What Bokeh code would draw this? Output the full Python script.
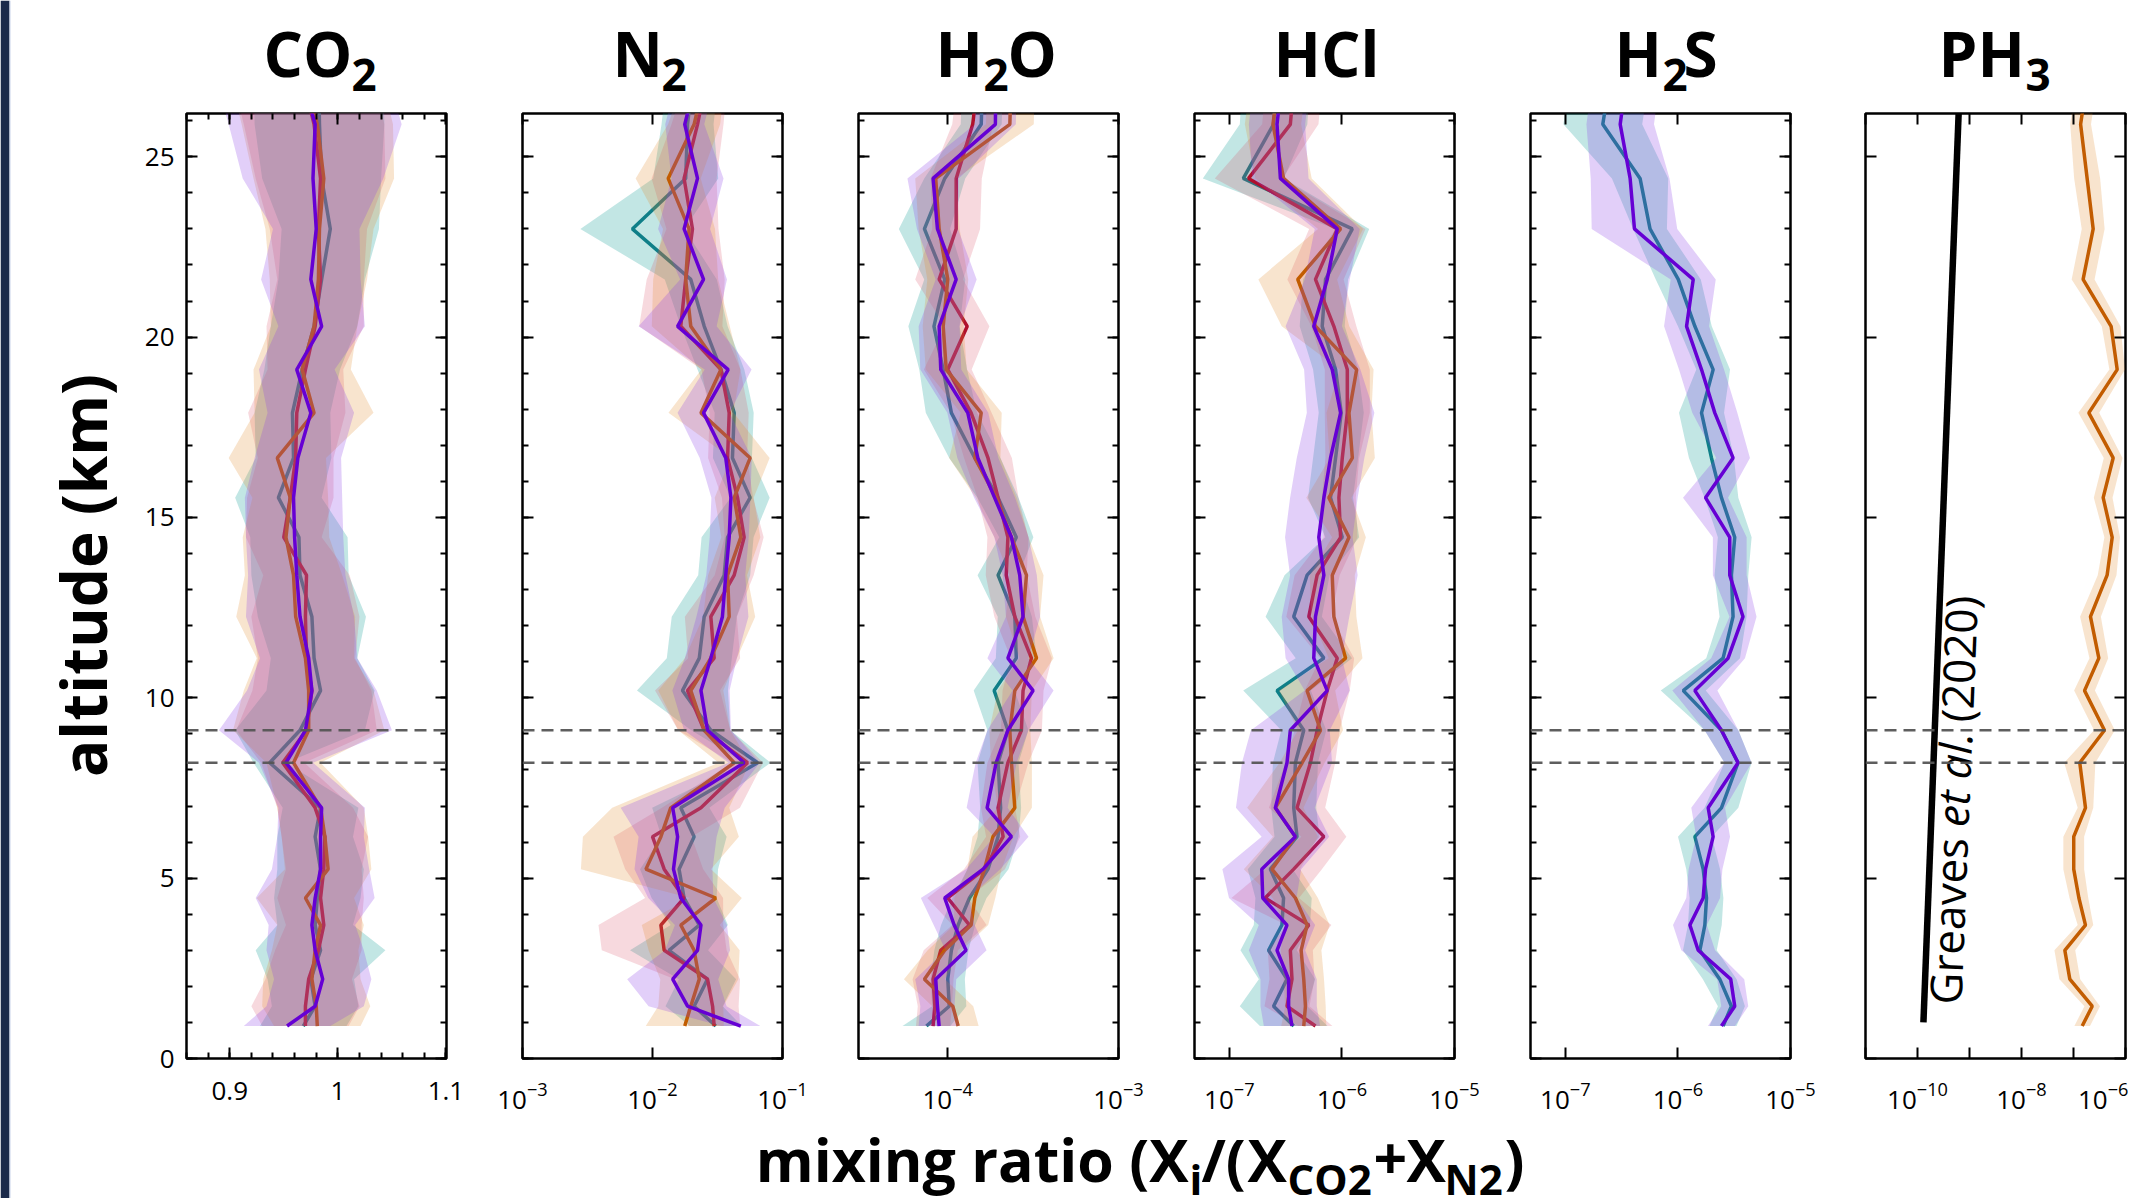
import math
from bokeh.plotting import figure
from bokeh.layouts import row, column
from bokeh.models import (Range1d, LinearAxis, LogAxis, FixedTicker, Span, Label,
                          CustomJSTickFormatter)
from bokeh.core.properties import value
from bokeh.embed import file_html
from bokeh.resources import INLINE

FONT = "Open Sans"

# ---------------- data ----------------
ALT = [27.5, 25.9, 24.4, 23.0, 21.6, 20.3, 19.1, 17.9, 16.65, 15.55, 14.45, 13.4, 12.25,
       11.1, 10.2, 9.1, 8.2, 6.95, 6.15, 5.25, 4.45, 3.7, 3.0, 2.2, 1.45, 0.9]
ALT_MIN, ALT_MAX = 0.0, 26.2
DASHED_ALTS = [9.1, 8.2]
Y_MAJOR = [0, 5, 10, 15, 20, 25]
Y_MINOR = list(range(0, 27))

# CO2 (linear mixing ratio), half-widths in same units
co2_teal = [0.982, 0.983, 0.985, 0.993, 0.985, 0.978, 0.967, 0.958, 0.959, 0.945, 0.964, 0.965, 0.976,
            0.978, 0.984, 0.965, 0.937, 0.984, 0.979, 0.984, 0.981, 0.979, 0.984, 0.975, 0.979, 0.968]
co2_red = [0.965, 0.978, 0.984, 0.982, 0.984, 0.979, 0.970, 0.962, 0.961, 0.956, 0.950, 0.971, 0.970,
           0.971, 0.976, 0.971, 0.949, 0.979, 0.988, 0.987, 0.984, 0.987, 0.982, 0.973, 0.970, 0.970]
co2_orange = [0.968, 0.981, 0.987, 0.983, 0.982, 0.978, 0.967, 0.978, 0.944, 0.956, 0.952, 0.959, 0.961,
              0.970, 0.973, 0.973, 0.959, 0.984, 0.988, 0.991, 0.970, 0.984, 0.979, 0.976, 0.980, 0.981]
co2_purple = [0.964, 0.979, 0.977, 0.980, 0.975, 0.985, 0.962, 0.975, 0.963, 0.959, 0.960, 0.962, 0.965,
              0.973, 0.976, 0.970, 0.952, 0.985, 0.984, 0.984, 0.979, 0.976, 0.979, 0.986, 0.979, 0.953]
co2_teal_err = [0.06, 0.06, 0.055, 0.045, 0.04, 0.04, 0.035, 0.035, 0.035, 0.04, 0.045, 0.045, 0.05,
                0.04, 0.05, 0.06, 0.015, 0.035, 0.035, 0.04, 0.04, 0.035, 0.06, 0.04, 0.04, 0.04]
co2_red_err = [0.065, 0.065, 0.06, 0.045, 0.04, 0.045, 0.035, 0.045, 0.035, 0.04, 0.035, 0.04, 0.05,
               0.045, 0.055, 0.065, 0.02, 0.035, 0.04, 0.035, 0.04, 0.035, 0.04, 0.04, 0.05, 0.04]
co2_orange_err = [0.07, 0.07, 0.065, 0.05, 0.045, 0.04, 0.045, 0.055, 0.045, 0.035, 0.04, 0.045, 0.055,
                  0.045, 0.06, 0.07, 0.025, 0.04, 0.04, 0.04, 0.045, 0.04, 0.04, 0.045, 0.05, 0.04]
co2_purple_err = [0.08, 0.08, 0.065, 0.04, 0.046, 0.04, 0.035, 0.04, 0.04, 0.045, 0.045, 0.045, 0.05,
                  0.045, 0.06, 0.08, 0.025, 0.04, 0.04, 0.045, 0.055, 0.04, 0.045, 0.045, 0.045, 0.04]

# N2 (log), half-widths in dex
n2_teal = [0.0209, 0.0186, 0.0180, 0.0070, 0.0197, 0.0250, 0.0336, 0.0425, 0.0412, 0.0564, 0.0378, 0.0356, 0.0250,
           0.0229, 0.0170, 0.0281, 0.0643, 0.0165, 0.0209, 0.0160, 0.0175, 0.0229, 0.0134, 0.0265, 0.0209, 0.0307]
n2_red = [0.0273, 0.0222, 0.0175, 0.0203, 0.0180, 0.0165, 0.0336, 0.0389, 0.0378, 0.0451, 0.0507, 0.0425, 0.0281,
          0.0298, 0.0186, 0.0250, 0.0538, 0.0236, 0.0100, 0.0123, 0.0175, 0.0116, 0.0123, 0.0265, 0.0290, 0.0298]
n2_orange = [0.0265, 0.0209, 0.0132, 0.0191, 0.0180, 0.0197, 0.0336, 0.0236, 0.0564, 0.0425, 0.0478, 0.0378, 0.0389,
             0.0281, 0.0197, 0.0250, 0.0425, 0.0138, 0.0116, 0.0089, 0.0307, 0.0165, 0.0209, 0.0229, 0.0197, 0.0177]
n2_purple = [0.0229, 0.0177, 0.0222, 0.0175, 0.0247, 0.0156, 0.0382, 0.0247, 0.0366, 0.0401, 0.0389, 0.0366, 0.0345,
             0.0281, 0.0236, 0.0265, 0.0507, 0.0143, 0.0156, 0.0145, 0.0165, 0.0236, 0.0222, 0.0143, 0.0186, 0.0478]
n2_teal_err = [0.2, 0.2, 0.25, 0.4, 0.2, 0.18, 0.18, 0.15, 0.15, 0.15, 0.2, 0.2, 0.25,
               0.25, 0.35, 0.15, 0.1, 0.22, 0.25, 0.3, 0.25, 0.22, 0.3, 0.22, 0.22, 0.2]
n2_red_err = [0.15, 0.2, 0.25, 0.2, 0.3, 0.32, 0.15, 0.15, 0.15, 0.12, 0.15, 0.15, 0.2,
              0.2, 0.25, 0.2, 0.12, 0.3, 0.3, 0.3, 0.3, 0.48, 0.48, 0.25, 0.2, 0.2]
n2_orange_err = [0.15, 0.2, 0.25, 0.2, 0.25, 0.3, 0.15, 0.25, 0.15, 0.15, 0.15, 0.15, 0.2,
                 0.2, 0.25, 0.2, 0.12, 0.45, 0.6, 0.5, 0.2, 0.3, 0.35, 0.3, 0.25, 0.3]
n2_purple_err = [0.15, 0.15, 0.2, 0.2, 0.18, 0.3, 0.18, 0.2, 0.2, 0.15, 0.15, 0.15, 0.2,
                 0.2, 0.22, 0.18, 0.12, 0.4, 0.3, 0.3, 0.25, 0.2, 0.25, 0.35, 0.3, 0.15]

# H2O
h2o_teal = [1.61e-4, 1.57e-4, 0.96e-4, 0.73e-4, 0.96e-4, 0.83e-4, 0.94e-4, 1.05e-4, 1.44e-4, 1.97e-4, 2.52e-4, 1.97e-4, 2.47e-4,
            2.52e-4, 1.87e-4, 2.25e-4, 1.97e-4, 2.04e-4, 1.97e-4, 1.72e-4, 1.34e-4, 1.15e-4, 1.05e-4, 1.00e-4, 1.02e-4, 0.75e-4]
h2o_red = [1.54e-4, 1.40e-4, 1.12e-4, 1.12e-4, 0.89e-4, 1.30e-4, 1.00e-4, 1.37e-4, 1.72e-4, 1.97e-4, 2.25e-4, 2.20e-4, 2.47e-4,
           3.09e-4, 2.76e-4, 2.70e-4, 2.25e-4, 1.97e-4, 2.11e-4, 1.64e-4, 1.00e-4, 1.34e-4, 0.91e-4, 0.82e-4, 0.84e-4, 0.82e-4]
h2o_orange = [2.36e-4, 2.31e-4, 0.85e-4, 0.89e-4, 1.00e-4, 0.94e-4, 0.98e-4, 1.57e-4, 1.44e-4, 1.92e-4, 2.36e-4, 2.89e-4, 2.76e-4,
              3.31e-4, 2.47e-4, 2.31e-4, 2.36e-4, 2.47e-4, 1.84e-4, 1.64e-4, 1.44e-4, 1.37e-4, 0.96e-4, 0.73e-4, 1.07e-4, 1.15e-4]
h2o_purple = [1.92e-4, 1.90e-4, 0.82e-4, 0.87e-4, 1.12e-4, 0.89e-4, 0.91e-4, 1.31e-4, 1.50e-4, 1.88e-4, 2.36e-4, 2.64e-4, 2.76e-4,
              2.25e-4, 3.16e-4, 2.25e-4, 1.92e-4, 1.70e-4, 2.36e-4, 1.61e-4, 0.96e-4, 1.09e-4, 1.28e-4, 0.85e-4, 0.87e-4, 0.89e-4]
h2o_teal_err = [0.12, 0.12, 0.12, 0.15, 0.12, 0.15, 0.14, 0.15, 0.15, 0.12, 0.1, 0.12, 0.1,
                0.12, 0.12, 0.12, 0.12, 0.12, 0.12, 0.12, 0.1, 0.1, 0.1, 0.1, 0.1, 0.14]
h2o_red_err = [0.12, 0.12, 0.15, 0.14, 0.14, 0.13, 0.14, 0.12, 0.14, 0.12, 0.12, 0.12, 0.12,
               0.12, 0.12, 0.12, 0.12, 0.1, 0.1, 0.12, 0.12, 0.1, 0.1, 0.12, 0.1, 0.1]
h2o_orange_err = [0.14, 0.14, 0.12, 0.12, 0.12, 0.12, 0.12, 0.12, 0.15, 0.12, 0.1, 0.1, 0.1,
                  0.1, 0.1, 0.12, 0.12, 0.1, 0.12, 0.1, 0.12, 0.1, 0.1, 0.12, 0.12, 0.12]
h2o_purple_err = [0.12, 0.12, 0.15, 0.12, 0.12, 0.12, 0.12, 0.12, 0.12, 0.12, 0.1, 0.1, 0.1,
                  0.12, 0.12, 0.12, 0.12, 0.12, 0.1, 0.1, 0.14, 0.12, 0.12, 0.12, 0.1, 0.12]

# HCl
hcl_teal = [2.65e-7, 2.47e-7, 1.33e-7, 12.37e-7, 7.15e-7, 6.68e-7, 8.78e-7, 9.86e-7, 8.78e-7, 7.92e-7, 10.07e-7, 4.90e-7, 3.73e-7,
            6.91e-7, 2.65e-7, 4.58e-7, 3.86e-7, 3.73e-7, 3.99e-7, 2.31e-7, 3.03e-7, 2.93e-7, 2.23e-7, 3.25e-7, 2.47e-7, 3.73e-7]
hcl_red = [3.86e-7, 3.48e-7, 1.48e-7, 9.09e-7, 5.82e-7, 8.48e-7, 11.16e-7, 11.16e-7, 10.07e-7, 9.40e-7, 9.73e-7, 6.02e-7, 5.08e-7,
           9.09e-7, 7.40e-7, 6.02e-7, 5.25e-7, 3.99e-7, 6.91e-7, 3.73e-7, 2.08e-7, 5.08e-7, 3.48e-7, 3.60e-7, 3.25e-7, 5.82e-7]
hcl_orange = [2.84e-7, 2.44e-7, 3.03e-7, 9.73e-7, 4.05e-7, 5.82e-7, 13.52e-7, 11.55e-7, 12.37e-7, 7.65e-7, 11.55e-7, 8.20e-7, 8.48e-7,
              10.78e-7, 4.90e-7, 6.45e-7, 4.43e-7, 2.56e-7, 3.86e-7, 2.39e-7, 3.86e-7, 4.90e-7, 4.34e-7, 4.58e-7, 4.74e-7, 4.58e-7]
hcl_purple = [3.03e-7, 2.65e-7, 2.84e-7, 9.09e-7, 7.40e-7, 5.62e-7, 8.20e-7, 9.73e-7, 7.92e-7, 6.91e-7, 6.23e-7, 6.91e-7, 5.82e-7,
              5.62e-7, 7.40e-7, 3.48e-7, 3.25e-7, 2.56e-7, 3.86e-7, 1.94e-7, 1.98e-7, 3.25e-7, 2.65e-7, 3.36e-7, 3.36e-7, 3.60e-7]
hcl_teal_err = [0.3, 0.3, 0.36, 0.15, 0.2, 0.2, 0.2, 0.2, 0.2, 0.2, 0.15, 0.2, 0.25,
                0.25, 0.3, 0.2, 0.2, 0.2, 0.2, 0.2, 0.25, 0.25, 0.25, 0.25, 0.3, 0.3]
hcl_red_err = [0.25, 0.25, 0.3, 0.25, 0.25, 0.2, 0.2, 0.2, 0.15, 0.15, 0.15, 0.2, 0.2,
               0.15, 0.2, 0.2, 0.22, 0.25, 0.2, 0.25, 0.3, 0.2, 0.2, 0.2, 0.2, 0.15]
hcl_orange_err = [0.25, 0.25, 0.25, 0.2, 0.35, 0.3, 0.15, 0.2, 0.2, 0.2, 0.15, 0.2, 0.2,
                  0.15, 0.25, 0.2, 0.2, 0.25, 0.2, 0.25, 0.2, 0.2, 0.18, 0.18, 0.18, 0.2]
hcl_purple_err = [0.25, 0.25, 0.25, 0.2, 0.2, 0.25, 0.25, 0.3, 0.3, 0.3, 0.3, 0.3, 0.3,
                  0.25, 0.2, 0.35, 0.4, 0.35, 0.3, 0.35, 0.3, 0.25, 0.25, 0.25, 0.25, 0.25]

# H2S
h2s_teal = [2.59e-7, 2.15e-7, 4.61e-7, 5.65e-7, 10.07e-7, 14.14e-7, 20.55e-7, 16.20e-7, 19.86e-7, 24.35e-7, 31.96e-7, 29.86e-7, 30.89e-7,
            25.19e-7, 11.15e-7, 24.35e-7, 34.20e-7, 24.35e-7, 14.14e-7, 16.76e-7, 17.94e-7, 17.34e-7, 15.66e-7, 23.53e-7, 29.86e-7, 25.19e-7]
h2s_purple = [3.59e-7, 3.07e-7, 3.76e-7, 4.11e-7, 13.67e-7, 11.93e-7, 16.20e-7, 21.26e-7, 30.89e-7, 17.58e-7, 28.86e-7, 28.86e-7, 37.86e-7,
              27.89e-7, 14.14e-7, 24.35e-7, 34.20e-7, 18.56e-7, 20.55e-7, 17.58e-7, 16.76e-7, 12.77e-7, 15.13e-7, 29.45e-7, 31.96e-7, 24.35e-7]
h2s_teal_err = [0.35, 0.35, 0.25, 0.15, 0.2, 0.15, 0.15, 0.2, 0.2, 0.15, 0.15, 0.15, 0.12,
                0.15, 0.2, 0.15, 0.12, 0.15, 0.15, 0.15, 0.15, 0.15, 0.15, 0.15, 0.12, 0.12]
h2s_purple_err = [0.3, 0.3, 0.35, 0.38, 0.2, 0.2, 0.2, 0.2, 0.15, 0.2, 0.15, 0.15, 0.12,
                  0.15, 0.2, 0.15, 0.12, 0.15, 0.15, 0.15, 0.15, 0.15, 0.15, 0.12, 0.12, 0.12]

# PH3
ph3_orange = [2.0e-7, 1.37e-7, 1.83e-7, 2.39e-7, 1.53e-7, 5.29e-7, 6.92e-7, 1.97e-7, 5.79e-7, 3.72e-7, 5.55e-7, 4.43e-7, 2.12e-7,
              3.07e-7, 1.63e-7, 3.94e-7, 1.32e-7, 1.70e-7, 1.01e-7, 1.01e-7, 1.27e-7, 1.70e-7, 6.81e-8, 8.49e-8, 2.29e-7, 1.47e-7]
ph3_orange_err = [0.2, 0.2, 0.25, 0.22, 0.22, 0.18, 0.15, 0.2, 0.18, 0.18, 0.15, 0.18, 0.2,
                  0.18, 0.2, 0.2, 0.3, 0.15, 0.2, 0.2, 0.18, 0.15, 0.2, 0.2, 0.15, 0.15]
greaves_alt = [1.0, 27.5]
greaves_vmr = [1.3e-10, 6.7e-10]
# label "Greaves et al. (2020)", written along the line: (text, x, altitude, style)
greaves_label = [("Greaves", 3.3e-10, 1.5, "normal"), ("et al.", 4.53e-10, 6.42, "italic"),
                 ("(2020)", 5.48e-10, 9.33, "normal")]
GREAVES_ANGLE = math.radians(87.7)

# ---------------- styles ----------------
# (line colour, fill colour, fill alpha)
TEAL = ("#0f7f88", "#1fa39c", 0.27)
RED = ("#b0102c", "#d8405a", 0.2)
ORANGE = ("#c25c00", "#e08a2c", 0.23)
PURPLE = ("#6600d4", "#8a40e6", 0.25)

PANELS = [
    dict(log=False, xlim=(0.86, 1.1005), ticks=[0.9, 1.0, 1.1],
         minor=[round(0.86 + 0.02 * i, 2) for i in range(13)], yminor=True,
         series=[(TEAL, co2_teal, co2_teal_err), (RED, co2_red, co2_red_err),
                 (ORANGE, co2_orange, co2_orange_err), (PURPLE, co2_purple, co2_purple_err)]),
    dict(log=True, xlim=(1e-3, 1e-1), ticks=[1e-3, 1e-2, 1e-1], minor=[], yminor=True,
         series=[(TEAL, n2_teal, n2_teal_err), (RED, n2_red, n2_red_err),
                 (ORANGE, n2_orange, n2_orange_err), (PURPLE, n2_purple, n2_purple_err)]),
    dict(log=True, xlim=(3.0e-5, 1e-3), ticks=[1e-4, 1e-3], minor=[], yminor=True,
         series=[(TEAL, h2o_teal, h2o_teal_err), (RED, h2o_red, h2o_red_err),
                 (ORANGE, h2o_orange, h2o_orange_err), (PURPLE, h2o_purple, h2o_purple_err)]),
    dict(log=True, xlim=(4.9e-8, 1e-5), ticks=[1e-7, 1e-6, 1e-5], minor=[], yminor=True,
         series=[(TEAL, hcl_teal, hcl_teal_err), (RED, hcl_red, hcl_red_err),
                 (ORANGE, hcl_orange, hcl_orange_err), (PURPLE, hcl_purple, hcl_purple_err)]),
    dict(log=True, xlim=(4.9e-8, 1e-5), ticks=[1e-7, 1e-6, 1e-5], minor=[], yminor=True,
         series=[(TEAL, h2s_teal, h2s_teal_err), (PURPLE, h2s_purple, h2s_purple_err)]),
    dict(log=True, xlim=(1e-11, 1e-6), ticks=[1e-10, 1e-8, 1e-6], minor=[1e-11, 1e-9, 1e-7], yminor=False,
         series=[(ORANGE, ph3_orange, ph3_orange_err)]),
]

# layout (pixels, page origin at top-left of the window)
LEFT_W = 138
PANEL_H = 1012
TOP_H = 108
BOT_H = 78
PANEL_GEOM = [(346, 48, 38), (336, 38, 38), (336, 38, 38), (336, 38, 38), (336, 38, 38), (300, 37, 3)]
COL_W = sum(g[0] for g in PANEL_GEOM)
COL_X0 = LEFT_W
COL_X1 = COL_X0 + COL_W
PAGE_Y1 = TOP_H + PANEL_H + BOT_H
BASE_SHIFT = 0.45   # em offset between the anchor and the drawn alphabetic baseline

TITLES = [
    [("CO", 263, False), ("2", 351, True)],
    [("N", 612, False), ("2", 661, True)],
    [("H", 935, False), ("2", 983, True), ("O", 1007, False)],
    [("HCl", 1273, False)],
    [("H", 1614, False), ("2", 1662, True), ("S", 1683, False)],
    [("PH", 1938, False), ("3", 2025, True)],
]
TITLE_BASE, TITLE_SUB_BASE = 80, 94
TITLE_SIZE, TITLE_SUB_SIZE = 62, 44
XLABEL = [("mixing ratio (X", 1188, False, "right"), ("i", 1189, True, "left"), ("/(", 1201, False, "left"),
          ("X", 1247, False, "left"), ("CO2", 1287, True, "left"), ("+", 1373, False, "left"),
          ("X", 1406, False, "left"), ("N2", 1444, True, "left"), (")", 1504, False, "left")]
XLABEL_BASE, XLABEL_SUB_BASE = 1185, 1197
XLABEL_SIZE, XLABEL_SUB_SIZE = 59, 42
YLABEL_SIZE = 62

BLANK = "return '';"


def style_axis(ax, show, minor_len=6):
    ax.axis_line_color = None
    ax.major_tick_in = 11
    ax.major_tick_out = 0
    ax.minor_tick_in = minor_len
    ax.minor_tick_out = 0
    ax.major_tick_line_width = 2
    ax.minor_tick_line_width = 2
    ax.major_tick_line_color = "black"
    ax.minor_tick_line_color = "black"
    ax.major_label_text_font = FONT
    ax.major_label_text_color = "black"
    ax.axis_label_standoff = 0
    if show:
        ax.major_label_text_font_size = "26px"
    else:
        ax.formatter = CustomJSTickFormatter(code=BLANK)
        ax.major_label_text_font_size = "1px"
        ax.major_label_standoff = 0


def make_panel(i, cfg):
    width, mbl, mbr = PANEL_GEOM[i]
    log = cfg["log"]
    p = figure(width=width, height=PANEL_H, x_range=Range1d(*cfg["xlim"]),
               y_range=Range1d(ALT_MIN, ALT_MAX),
               x_axis_type="log" if log else "linear",
               x_axis_location=None, y_axis_location=None,
               min_border_left=mbl, min_border_right=mbr, min_border_top=5, min_border_bottom=62,
               toolbar_location=None, output_backend="svg")
    p.grid.visible = False
    p.outline_line_color = "black"
    p.outline_line_width = 2.5
    p.background_fill_color = "white"
    p.border_fill_color = "white"

    for (lc, fc, fa), vals, err in cfg["series"]:
        if log:
            lo = [v / 10 ** e for v, e in zip(vals, err)]
            hi = [v * 10 ** e for v, e in zip(vals, err)]
        else:
            lo = [v - e for v, e in zip(vals, err)]
            hi = [v + e for v, e in zip(vals, err)]
        p.harea(x1=lo, x2=hi, y=ALT, fill_color=fc, fill_alpha=fa)
        p.line(x=vals, y=ALT, line_color=lc, line_width=3.5)

    if i == 5:
        p.line(x=greaves_vmr, y=greaves_alt, line_color="black", line_width=6.5)
        for txt, xx, yy, style in greaves_label:
            p.add_layout(Label(x=xx, y=yy, text=txt, angle=GREAVES_ANGLE, text_font=FONT,
                               text_font_size="44px", text_font_style=style, text_align="left",
                               text_baseline="alphabetic", text_color="black"))

    for a in DASHED_ALTS:
        p.add_layout(Span(location=a, dimension="width", line_color="#555555", line_width=2.5,
                          line_dash="12 7", line_alpha=0.95))

    xt = FixedTicker(ticks=cfg["ticks"], minor_ticks=cfg["minor"])
    yt = FixedTicker(ticks=Y_MAJOR, minor_ticks=Y_MINOR if cfg["yminor"] else [])
    AxisCls = LogAxis if log else LinearAxis
    xminor_len = 11 if i == 5 else 6
    bottom = AxisCls(ticker=xt)
    style_axis(bottom, True, xminor_len)
    bottom.major_label_standoff = 23
    if not log:
        bottom.formatter = CustomJSTickFormatter(
            code=r"return tick.toFixed(2).replace(/0+$/, '').replace(/\.$/, '');")
    top = AxisCls(ticker=xt)
    style_axis(top, False, xminor_len)
    left = LinearAxis(ticker=yt)
    style_axis(left, i == 0)
    if i == 0:
        left.major_label_standoff = 12
    right = LinearAxis(ticker=yt)
    style_axis(right, False)
    p.add_layout(bottom, "below")
    p.add_layout(top, "above")
    p.add_layout(left, "left")
    p.add_layout(right, "right")
    return p


def strip(width, height, xr, yr):
    s = figure(width=width, height=height, x_range=Range1d(*xr), y_range=Range1d(*yr),
               x_axis_location=None, y_axis_location=None, min_border=0,
               toolbar_location=None, output_backend="svg")
    s.grid.visible = False
    s.outline_line_color = None
    s.background_fill_color = "white"
    s.border_fill_color = "white"
    return s


def put(p, x, y, txt, size, align="left", angle=0.0, style="bold"):
    p.text(x=[x], y=[y], text=[txt], text_font=value(FONT), text_font_size=value(f"{size}px"),
           text_font_style=style, text_align=align, text_baseline="alphabetic",
           angle=angle, text_color="black")


panels = [make_panel(i, cfg) for i, cfg in enumerate(PANELS)]

top_strip = strip(COL_W, TOP_H, (COL_X0, COL_X1), (TOP_H, 0))
for segs in TITLES:
    for txt, x, sub in segs:
        size = TITLE_SUB_SIZE if sub else TITLE_SIZE
        base = TITLE_SUB_BASE if sub else TITLE_BASE
        put(top_strip, x, base - BASE_SHIFT * size, txt, size)

bot_y0 = TOP_H + PANEL_H
bottom_strip = strip(COL_W, BOT_H, (COL_X0, COL_X1), (bot_y0 + BOT_H, bot_y0))
for txt, x, sub, align in XLABEL:
    size = XLABEL_SUB_SIZE if sub else XLABEL_SIZE
    base = XLABEL_SUB_BASE if sub else XLABEL_BASE
    put(bottom_strip, x, base - BASE_SHIFT * size, txt, size, align=align)

left_strip = strip(LEFT_W, PAGE_Y1, (0, LEFT_W), (PAGE_Y1, 0))
left_strip.quad(left=[0], right=[9], top=[0], bottom=[PAGE_Y1], fill_color="#1b2a4a", line_color=None)
left_strip.quad(left=[9], right=[10], top=[0], bottom=[PAGE_Y1], fill_color="#c9d3ea", line_color=None)
put(left_strip, 110 - BASE_SHIFT * YLABEL_SIZE, 575, "altitude (km)", YLABEL_SIZE, align="center", angle=math.pi / 2)

layout = row(left_strip, column(top_strip, row(*panels), bottom_strip))

open("out.html", "w").write(file_html(layout, INLINE))
